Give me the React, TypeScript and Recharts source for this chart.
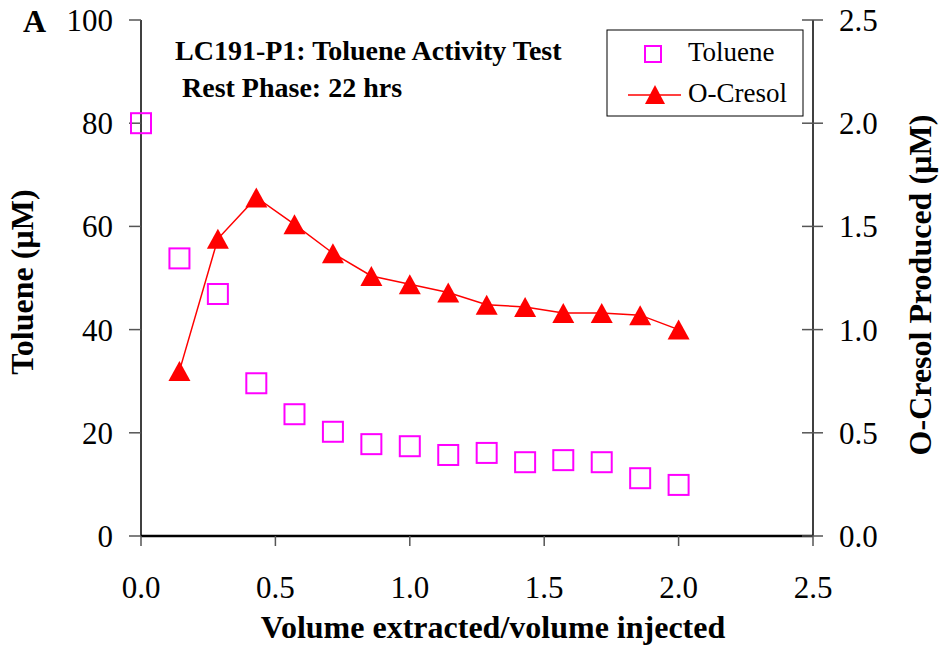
import { ComposedChart, Line, Scatter, XAxis, YAxis, Customized } from "recharts";

// volume extracted / volume injected
const volumeRatio = [0, 0.143, 0.286, 0.429, 0.571, 0.714, 0.857, 1.0, 1.143, 1.286, 1.429, 1.571, 1.714, 1.857, 2.0];
// toluene (uM), left axis
const toluene = [80, 53.8, 46.9, 29.6, 23.6, 20.2, 17.8, 17.4, 15.7, 16.1, 14.3, 14.7, 14.3, 11.2, 9.9];
// o-cresol produced (uM), right axis; no value at 0
const oCresol = [null, 0.8, 1.44, 1.64, 1.51, 1.37, 1.26, 1.22, 1.18, 1.12, 1.11, 1.08, 1.08, 1.07, 1.0];

const xTicks = [0, 0.5, 1, 1.5, 2, 2.5];
const leftTicks = [0, 20, 40, 60, 80, 100];
const rightTicks = [0, 0.5, 1, 1.5, 2, 2.5];
const seriesNames = ["Toluene", "O-Cresol"];

const data = volumeRatio.map((x, i) => ({ x, toluene: toluene[i], cresol: oCresol[i] }));

const serif = "'Liberation Serif', 'Times New Roman', serif";
const MAGENTA = "#ff00ff";
const RED = "#ff0000";

const tickFont = { fontSize: 31, fill: "#000", fontFamily: serif };

const RIGHT_TICK = 10;
const RIGHT_MARGIN = 16;

function Square(props: any) {
  const { cx, cy } = props;
  if (cx == null || cy == null) return null;
  return <rect x={cx - 10} y={cy - 10} width={20} height={20} fill="none" stroke={MAGENTA} strokeWidth={2} />;
}

function Triangle(props: any) {
  const { cx, cy } = props;
  if (cx == null || cy == null) return null;
  return <polygon points={`${cx},${cy - 10} ${cx + 11},${cy + 10} ${cx - 11},${cy + 10}`} fill={RED} />;
}

function RightTick(props: any) {
  const { x, y, payload } = props;
  const ax = x - RIGHT_TICK - RIGHT_MARGIN;
  return (
    <g>
      <line x1={ax - 11} x2={ax} y1={y} y2={y} stroke="#555" strokeWidth={1.5} />
      <text x={x} y={y} dy="0.355em" textAnchor="start" {...tickFont}>
        {Number(payload.value).toFixed(1)}
      </text>
    </g>
  );
}

function Decorations() {
  return (
    <g fontFamily={serif} fill="#000">
      <text x={23} y={32} fontSize={32} fontWeight="bold">A</text>
      <text x={175} y={60} fontSize={28} fontWeight="bold">LC191-P1: Toluene Activity Test</text>
      <text x={182} y={97} fontSize={28} fontWeight="bold">Rest Phase: 22 hrs</text>
      <text transform="translate(33,282) rotate(-90)" textAnchor="middle" fontSize={32} fontWeight="bold">
        Toluene (µM)
      </text>
      <text transform="translate(931,285) rotate(-90)" textAnchor="middle" fontSize={32} fontWeight="bold">
        O-Cresol Produced (µM)
      </text>
      <text x={493} y={638} textAnchor="middle" fontSize={32} fontWeight="bold">
        Volume extracted/volume injected
      </text>
      {/* legend */}
      <rect x={607} y={30} width={196} height={86} fill="#fff" stroke="#000" strokeWidth={1} />
      <rect x={645} y={46} width={16} height={16} fill="none" stroke={MAGENTA} strokeWidth={2} />
      <text x={688} y={61} fontSize={27}>{seriesNames[0]}</text>
      <line x1={628} x2={681} y1={95} y2={95} stroke={RED} strokeWidth={1.5} />
      <polygon points="655,85 665,104 645,104" fill={RED} />
      <text x={688} y={102} fontSize={27}>{seriesNames[1]}</text>
    </g>
  );
}

export default function App() {
  return (
    <div style={{ position: "absolute", left: 0, top: 0, background: "#fff" }}>
      <ComposedChart width={940} height={651} data={data} margin={{ top: 20, right: 0, bottom: 0, left: 0 }}>
        <XAxis
          dataKey="x"
          type="number"
          domain={[0, 2.5]}
          ticks={xTicks}
          tickFormatter={(v: number) => v.toFixed(1)}
          height={115}
          tickSize={10}
          tickMargin={30}
          tick={tickFont}
          axisLine={{ stroke: "#000", strokeWidth: 2.5 }}
          tickLine={{ stroke: "#555", strokeWidth: 1.5 }}
        />
        <XAxis
          xAxisId="top"
          dataKey="x"
          type="number"
          orientation="top"
          domain={[0, 2.5]}
          height={0}
          tick={false}
          tickLine={false}
          axisLine={{ stroke: "#000", strokeWidth: 1.5 }}
        />
        <YAxis
          yAxisId="left"
          domain={[0, 100]}
          ticks={leftTicks}
          width={141}
          tickSize={12}
          tickMargin={16}
          tick={tickFont}
          axisLine={{ stroke: "#000", strokeWidth: 1.5 }}
          tickLine={{ stroke: "#555", strokeWidth: 1.5 }}
        />
        <YAxis
          yAxisId="right"
          orientation="right"
          domain={[0, 2.5]}
          ticks={rightTicks}
          width={127}
          tickSize={RIGHT_TICK}
          tickMargin={RIGHT_MARGIN}
          tick={<RightTick />}
          axisLine={{ stroke: "#000", strokeWidth: 1.5 }}
          tickLine={{ stroke: "#555", strokeWidth: 1.5 }}
        />
        <Scatter yAxisId="left" dataKey="toluene" name="Toluene" shape={<Square />} isAnimationActive={false} />
        <Line
          yAxisId="right"
          dataKey="cresol"
          name="O-Cresol"
          stroke={RED}
          strokeWidth={1.5}
          dot={<Triangle />}
          activeDot={false}
          connectNulls={false}
          isAnimationActive={false}
        />
        <Customized component={<Decorations />} />
      </ComposedChart>
    </div>
  );
}
